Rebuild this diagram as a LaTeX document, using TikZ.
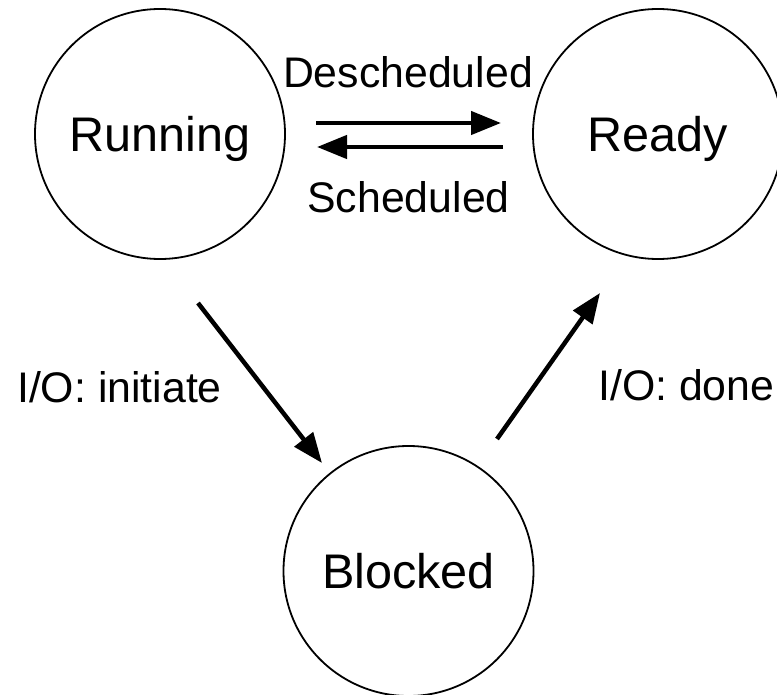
\documentclass[tikz,border=0pt]{standalone}
\usepackage{fontspec}
\setmainfont{Liberation Sans}
\usetikzlibrary{arrows.meta}
\begin{document}
\begin{tikzpicture}[x=1pt,y=-1pt,
  state/.style={draw,circle,line width=1.8pt,minimum size=250pt,inner sep=0pt,
    font=\fontsize{48.6}{50}\selectfont,text height=35pt,text depth=0pt},
  lbl/.style={font=\fontsize{42.8}{44}\selectfont,inner sep=0pt},
  arr/.style={line width=4.5pt,-{Triangle[length=30pt,width=23pt]}}]
\useasboundingbox (0,0) rectangle (777,695);
\node[state] (run) at (160,134) {Running};
\node[state] (rdy) at (658,134) {Ready};
\node[state] (blk) at (408.5,571) {Blocked};
\coordinate (d1) at (316,123);
\coordinate (d2) at (501,123);
\coordinate (s1) at (503,147);
\coordinate (s2) at (317,147);
\coordinate (i1) at (198,303);
\coordinate (i2) at (322,463);
\coordinate (o1) at (497,439);
\coordinate (o2) at (600,293);
\draw[arr] (d1) -- (d2);
\draw[arr] (s1) -- (s2);
\draw[arr] (i1) -- (i2);
\draw[arr] (o1) -- (o2);
\node[lbl,anchor=base] (ld) at (408,88) {Descheduled};
\node[lbl,anchor=base] (ls) at (408.5,213) {Scheduled};
\node[lbl,anchor=base west] (li) at (17,402) {I/O: initiate};
\node[lbl,anchor=base west] (lo) at (598,400) {I/O: done};
\end{tikzpicture}
\end{document}
